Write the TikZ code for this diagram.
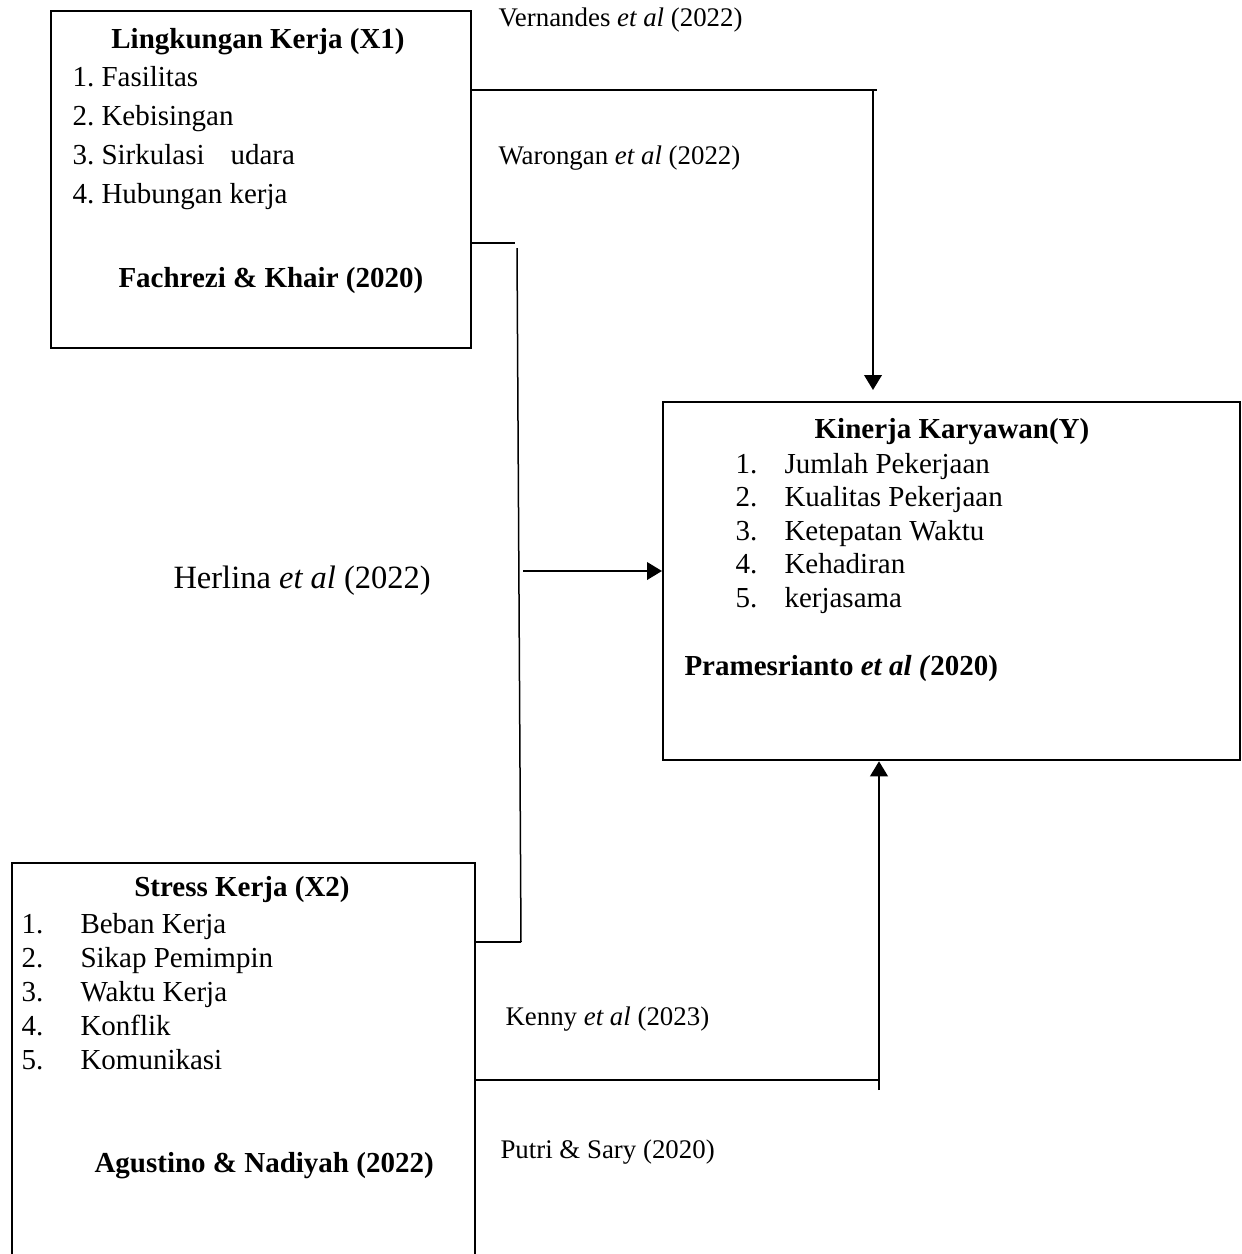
\documentclass[tikz,border=0pt]{standalone}
\usepackage{fontspec}
\setmainfont{Liberation Serif}
\usetikzlibrary{arrows.meta,positioning}
\frenchspacing

\begin{document}
\begin{tikzpicture}[x=0.4pt, y=-0.4pt, >={Triangle[length=6pt,width=7pt]}]
        \tikzstyle{box}=[draw, line width=0.9pt, anchor=north west, inner sep=0pt]
        \tikzstyle{txt}=[anchor=base west, inner sep=0pt, font=\fontsize{11.6}{14}\selectfont]
        \tikzstyle{ttl}=[anchor=base, inner sep=0pt, font=\fontsize{11.6}{14}\selectfont\bfseries]
        \tikzstyle{src}=[anchor=west, inner sep=0pt, font=\fontsize{10.75}{13}\selectfont]
        \tikzstyle{line}=[line width=0.6pt]
        \tikzstyle{arr}=[->, line width=0.9pt]
        \useasboundingbox (0,0) rectangle (1241,1254);

        % kotak variabel
        \node[box, minimum width=168pt, minimum height=134.8pt]   (x1) at (50,10)  {};
        \node[box, minimum width=230.8pt, minimum height=143.2pt] (y)  at (662,401) {};
        \node[box, minimum width=185.2pt, minimum height=171.2pt] (x2) at (11,862) {};

        % isi X1
        \node[ttl] (x1t) at (258,48) {Lingkungan Kerja (X1)};
        \node[txt] (x1a) at (72,86)  {1. Fasilitas};
        \node[txt] (x1b) at (72,125) {2. Kebisingan};
        \node[txt] (x1c) at (72,164) {3. Sirkulasi\hspace{7.5pt} udara};
        \node[txt] (x1d) at (72,203) {4. Hubungan kerja};
        \node[ttl, anchor=base west] (x1s) at (118,287) {Fachrezi \& Khair (2020)};

        % isi Y
        \node[ttl] (yt) at (952,438) {Kinerja Karyawan(Y)};
        \foreach \t [count=\k] in {Jumlah Pekerjaan, Kualitas Pekerjaan, Ketepatan Waktu, Kehadiran, kerjasama}
            \node[txt] (yn\k) at (735,{473+33.6*(\k-1)}) {\k.}
                node[txt] (yi\k) at (784,{473+33.6*(\k-1)}) {\t};
        \node[ttl, anchor=base west] (ys) at (684,675) {Pramesrianto \textit{et al (}2020)};

        % isi X2
        \node[ttl] (x2t) at (242,896) {Stress Kerja (X2)};
        \foreach \t [count=\k] in {Beban Kerja, Sikap Pemimpin, Waktu Kerja, Konflik, Komunikasi}
            \node[txt] (xn\k) at (21,{933+34.2*(\k-1)}) {\k.}
                node[txt] (xi\k) at (80,{933+34.2*(\k-1)}) {\t};
        \node[ttl, anchor=base west] (x2s) at (94,1172) {Agustino \& Nadiyah (2022)};

        % sumber
        \node[src] (s1) at (498,20)   {Vernandes \textit{et al} (2022)};
        \node[src] (s2) at (498,158)  {Warongan \textit{et al} (2022)};
        \node[src, font=\fontsize{13}{16}\selectfont] (s3) at (173,581) {Herlina \textit{et al} (2022)};
        \node[src] (s4) at (505,1019) {Kenny \textit{et al} (2023)};
        \node[src] (s5) at (500,1152) {Putri \& Sary (2020)};

        % X1 -> Y
        \coordinate (c1) at (877,90);
        \coordinate (c2) at (873,90);
        \draw[line] (x1.east |- c1) -- (c1);
        \draw[arr, shorten >=4.4pt] (c2) -- (c2 |- y.north);

        % X1 & X2 -> Y (simultan)
        \coordinate (m1) at (515,243);
        \coordinate (m2) at (517,248);
        \coordinate (m3) at (521,942);
        \coordinate (m4) at (523,571);
        \draw[line] (x1.east |- m1) -- (m1);
        \draw[line] (m2) -- (m3);
        \draw[line] (x2.east |- m3) -- (m3);
        \draw[arr] (m4) -- (m4 -| y.west);

        % X2 -> Y
        \coordinate (b1) at (878,1080);
        \coordinate (b2) at (879,1090);
        \draw[line] (x2.east |- b1) -- (b1);
        \draw[arr] (b2) -- (b2 |- y.south);
\end{tikzpicture}
\end{document}
